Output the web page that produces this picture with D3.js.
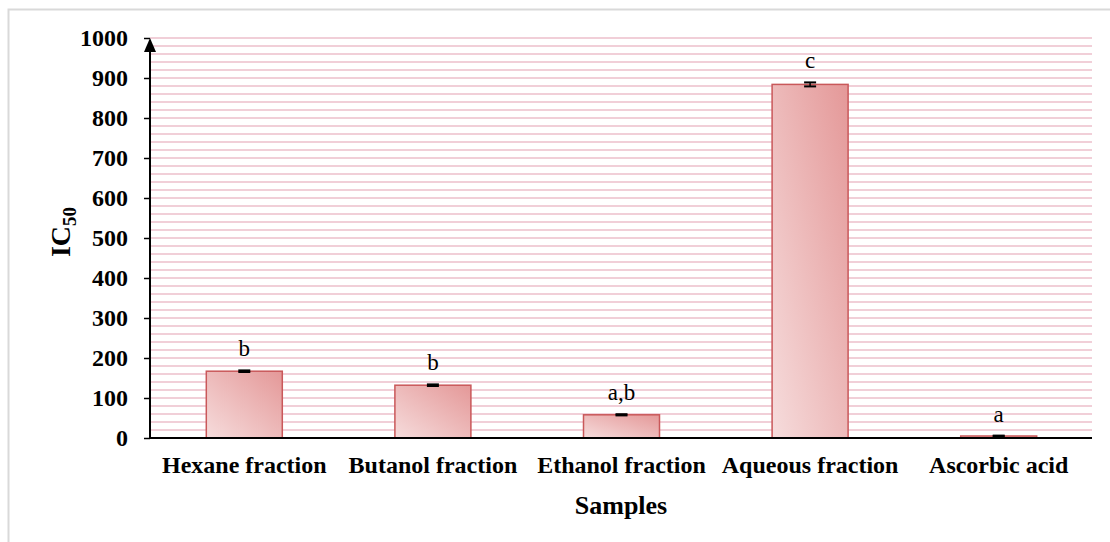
<!DOCTYPE html>
<html><head><meta charset="utf-8">
<script src="https://cdn.jsdelivr.net/npm/d3@7"></script>
<style>body{margin:0;background:#fff}svg{display:block}text{font-family:"Liberation Serif","Times New Roman",serif}</style>
</head><body>
<svg id="c" width="1110" height="542"></svg>
<script>
const categories = ["Hexane fraction","Butanol fraction","Ethanol fraction","Aqueous fraction","Ascorbic acid"];
const values = [167, 132, 58, 884, 5];
const errors = [2, 2, 1.5, 5, 1];
const letters = ["b","b","a,b","c","a"];
const yTicks = [0,100,200,300,400,500,600,700,800,900,1000];

const svg = d3.select("#c");
// outer border
svg.append("path").attr("d","M8.5,542 L8.5,9.5 L1110,9.5").attr("fill","none").attr("stroke","#d9d9d9").attr("stroke-width",2);

const x = d3.scaleBand().domain(categories).range([150,1093]).paddingInner(0.6).paddingOuter(0.3);
const y = d3.scaleLinear().domain([0,1000]).range([438,38]);

const defs = svg.append("defs");
const g = defs.append("linearGradient").attr("id","bg").attr("x1","0").attr("y1","1").attr("x2","1").attr("y2","0");
g.append("stop").attr("offset","0").attr("stop-color","#f6dcdc");
g.append("stop").attr("offset","1").attr("stop-color","#e49898");

// gridlines every 20
const grid = d3.range(20,1001,20);
svg.append("g").selectAll("line").data(grid).join("line")
  .attr("x1",150).attr("x2",1092).attr("y1",d=>y(d)).attr("y2",d=>y(d))
  .attr("stroke","#edbfcb").attr("stroke-width",1.6);

// bars
const bw = 76;
svg.append("g").selectAll("rect").data(values).join("rect")
  .attr("x",(d,i)=>x(categories[i])+x.bandwidth()/2-bw/2)
  .attr("width",bw)
  .attr("y",d=>y(d)).attr("height",d=>y(0)-y(d))
  .attr("fill","url(#bg)").attr("stroke","#c9585a").attr("stroke-width",1.5);

// error bars
const eg = svg.append("g");
values.forEach((v,i)=>{
  const cx = x(categories[i])+x.bandwidth()/2;
  eg.append("line").attr("x1",cx).attr("x2",cx).attr("y1",y(v+errors[i])).attr("y2",y(v-errors[i])).attr("stroke","#000").attr("stroke-width",1.5);
  [v+errors[i], v-errors[i]].forEach(e=>{
    eg.append("line").attr("x1",cx-6).attr("x2",cx+6).attr("y1",y(e)).attr("y2",y(e)).attr("stroke","#000").attr("stroke-width",2);
  });
  svg.append("text").attr("x",cx).attr("y",y(v+errors[i])-14).attr("text-anchor","middle")
    .attr("font-size",23).text(letters[i]);
});

const FF = "'Liberation Serif','Times New Roman',serif";
// y axis
const ya = svg.append("g").attr("transform","translate(150,0)")
  .call(d3.axisLeft(y).tickValues(yTicks).tickSize(6).tickPadding(16).tickFormat(d3.format("d")));
ya.select(".domain").remove();
ya.selectAll(".tick line").attr("stroke","#000").attr("stroke-width",1.5);
ya.selectAll("text").attr("font-size",24).attr("font-weight","bold").attr("fill","#000").attr("font-family",FF);
svg.append("line").attr("x1",150).attr("x2",150).attr("y1",438).attr("y2",48).attr("stroke","#000").attr("stroke-width",2);
svg.append("path").attr("d","M150,38 L144,52 L156,52 Z").attr("fill","#000");

// x axis
const xa = svg.append("g").attr("transform","translate(0,438)")
  .call(d3.axisBottom(x).tickSize(0).tickPadding(18));
xa.select(".domain").remove();
xa.selectAll("text").attr("font-size",24).attr("font-weight","bold").attr("fill","#000").attr("font-family",FF).attr("dy","0.71em");
svg.append("line").attr("x1",149).attr("x2",1092).attr("y1",438).attr("y2",438).attr("stroke","#000").attr("stroke-width",2);

// axis titles
svg.append("text").attr("x",621).attr("y",514).attr("text-anchor","middle").attr("font-size",26).attr("font-weight","bold").text("Samples");
const yl = svg.append("text").attr("transform","translate(70,232) rotate(-90)").attr("text-anchor","middle").attr("font-size",28).attr("font-weight","bold");
yl.append("tspan").text("IC");
yl.append("tspan").attr("font-size",19).attr("dy",6).text("50");
</script>
</body></html>
